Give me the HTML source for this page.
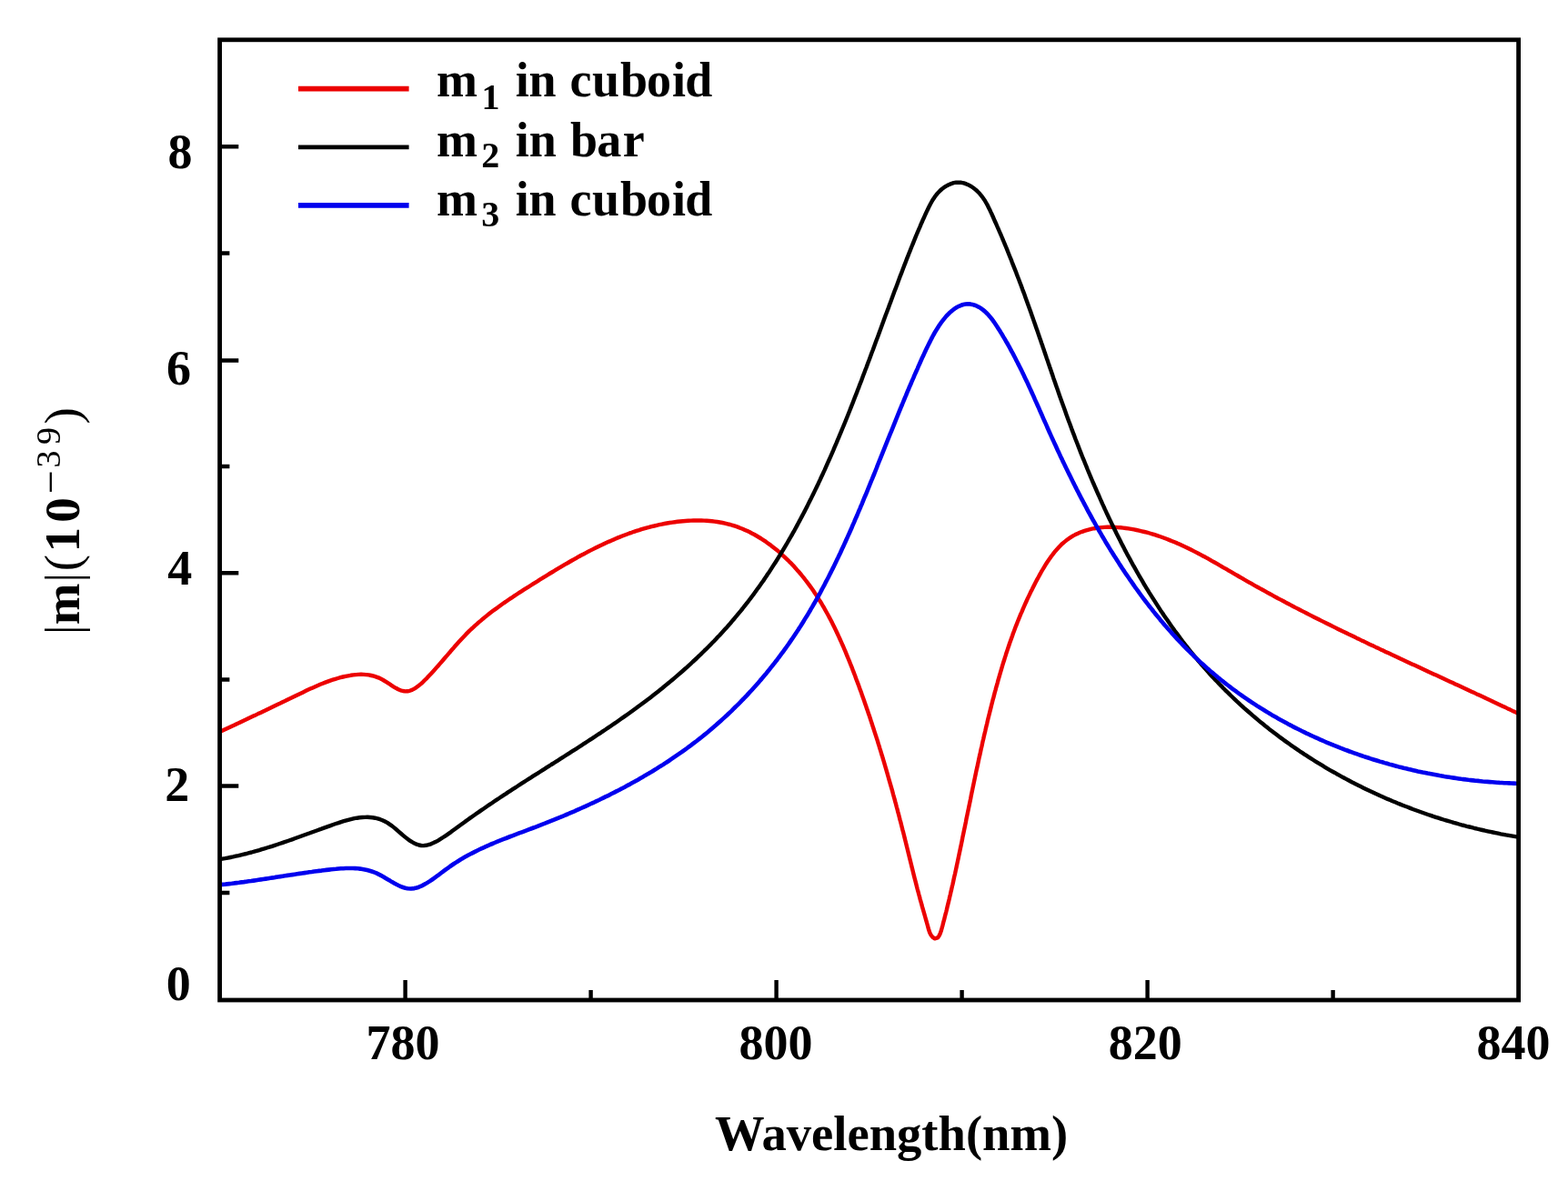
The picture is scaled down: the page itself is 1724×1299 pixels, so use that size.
<!DOCTYPE html>
<html><head><meta charset="utf-8"><title>|m| vs Wavelength</title>
<style>
html,body{margin:0;padding:0;background:#fff;}
body{width:1724px;height:1299px;overflow:hidden;}
svg{display:block;}
text{font-family:"Liberation Serif","Times New Roman",serif;fill:#000;}
</style></head>
<body>
<svg width="1724" height="1299" viewBox="0 0 1724 1299" font-weight="bold">
<defs><clipPath id="clip"><rect x="241.6" y="43.8" width="1428" height="1056.2"/></clipPath></defs>
<rect x="0" y="0" width="1724" height="1299" fill="#fff"/>
<!-- CURVES -->
<g fill="none" stroke-linejoin="round" stroke-linecap="round" clip-path="url(#clip)">
<path stroke="#ec0000" stroke-width="4.4" d="M241.5 805.0L244.2 803.8L246.9 802.5L249.6 801.2L252.3 800.0L255.0 798.7L257.7 797.5L260.3 796.2L263.0 795.0L265.6 793.7L268.2 792.5L270.8 791.3L273.4 790.0L276.0 788.8L278.6 787.6L281.2 786.4L283.8 785.1L286.4 783.9L288.9 782.7L291.5 781.5L294.1 780.2L296.7 779.0L299.2 777.8L301.8 776.5L304.4 775.3L307.0 774.1L309.6 772.8L312.2 771.6L314.8 770.3L317.4 769.0L320.0 767.8L322.6 766.5L325.2 765.2L327.9 763.9L330.5 762.7L333.2 761.4L335.9 760.1L338.5 758.8L341.2 757.6L343.9 756.4L346.6 755.2L349.4 754.0L352.1 752.8L354.8 751.7L357.6 750.6L360.3 749.6L363.1 748.6L365.9 747.7L368.7 746.8L371.5 746.0L374.3 745.2L377.1 744.5L379.9 743.8L382.8 743.3L385.6 742.8L388.4 742.4L391.3 742.1L394.1 741.9L397.0 741.8L399.8 741.9L402.7 742.1L405.5 742.4L408.3 743.0L411.1 743.7L413.9 744.6L416.7 745.6L419.4 746.9L422.1 748.5L424.8 750.1L427.5 751.8L430.1 753.6L432.7 755.3L435.3 756.8L437.9 758.2L440.4 759.3L443.0 760.0L445.5 760.4L448.0 760.3L450.5 759.8L453.0 758.9L455.4 757.6L457.8 756.1L460.2 754.3L462.6 752.4L464.9 750.3L467.1 748.0L469.4 745.8L471.5 743.5L473.7 741.2L475.8 738.9L477.8 736.7L479.8 734.4L481.8 732.2L483.8 729.9L485.7 727.7L487.6 725.5L489.5 723.3L491.4 721.1L493.3 718.9L495.2 716.7L497.0 714.5L498.9 712.4L500.7 710.3L502.6 708.2L504.5 706.1L506.4 704.0L508.3 701.9L510.2 699.9L512.1 697.9L514.1 695.9L516.1 693.9L518.1 692.0L520.2 690.1L522.3 688.1L524.4 686.3L526.5 684.4L528.7 682.6L530.9 680.7L533.1 678.9L535.3 677.1L537.6 675.3L539.8 673.6L542.1 671.8L544.5 670.1L546.8 668.4L549.1 666.7L551.5 665.0L553.9 663.3L556.3 661.7L558.7 660.0L561.1 658.4L563.6 656.8L566.0 655.1L568.5 653.5L570.9 651.9L573.4 650.3L575.9 648.7L578.4 647.1L580.9 645.6L583.4 644.0L585.9 642.4L588.4 640.8L590.9 639.3L593.4 637.7L595.9 636.2L598.4 634.6L600.9 633.1L603.4 631.5L605.9 630.0L608.5 628.5L611.0 626.9L613.5 625.4L616.1 623.9L618.6 622.4L621.1 620.9L623.7 619.5L626.2 618.0L628.8 616.5L631.3 615.1L633.9 613.7L636.4 612.2L639.0 610.8L641.6 609.5L644.2 608.1L646.7 606.7L649.3 605.4L651.9 604.1L654.5 602.8L657.1 601.5L659.7 600.2L662.4 599.0L665.0 597.7L667.6 596.5L670.3 595.4L672.9 594.2L675.6 593.1L678.2 591.9L680.9 590.9L683.6 589.8L686.3 588.7L689.0 587.7L691.7 586.7L694.4 585.8L697.1 584.8L699.8 583.9L702.6 583.1L705.3 582.2L708.1 581.4L710.8 580.6L713.6 579.9L716.4 579.1L719.2 578.5L722.0 577.8L724.8 577.2L727.7 576.6L730.5 576.0L733.3 575.5L736.2 575.0L739.1 574.6L742.0 574.2L744.9 573.8L747.8 573.5L750.7 573.2L753.6 573.0L756.5 572.8L759.5 572.6L762.4 572.5L765.3 572.5L768.3 572.5L771.2 572.5L774.1 572.6L777.1 572.8L780.0 573.0L782.9 573.3L785.8 573.6L788.6 574.0L791.5 574.5L794.4 575.0L797.2 575.6L800.0 576.3L802.8 577.0L805.6 577.8L808.3 578.7L811.1 579.6L813.8 580.7L816.5 581.7L819.1 582.9L821.7 584.1L824.3 585.3L826.9 586.7L829.5 588.0L832.0 589.5L834.5 591.0L837.0 592.5L839.4 594.1L841.9 595.7L844.2 597.4L846.6 599.1L848.9 600.9L851.2 602.7L853.5 604.5L855.8 606.4L858.0 608.3L860.1 610.3L862.3 612.3L864.4 614.3L866.5 616.3L868.5 618.4L870.6 620.4L872.6 622.6L874.5 624.7L876.4 626.9L878.3 629.0L880.2 631.2L882.0 633.5L883.8 635.7L885.6 638.0L887.4 640.3L889.1 642.6L890.8 644.9L892.5 647.3L894.1 649.6L895.7 652.0L897.3 654.4L898.9 656.9L900.4 659.3L902.0 661.8L903.5 664.2L904.9 666.7L906.4 669.2L907.8 671.8L909.2 674.3L910.6 676.8L912.0 679.4L913.4 682.0L914.7 684.6L916.0 687.2L917.3 689.8L918.6 692.4L919.8 695.0L921.1 697.7L922.3 700.3L923.5 703.0L924.7 705.6L925.9 708.3L927.1 711.0L928.2 713.7L929.4 716.4L930.5 719.1L931.6 721.8L932.7 724.5L933.8 727.2L934.9 730.0L936.0 732.7L937.1 735.4L938.1 738.2L939.2 740.9L940.2 743.6L941.2 746.4L942.2 749.1L943.3 751.9L944.3 754.6L945.3 757.4L946.3 760.1L947.3 762.8L948.2 765.6L949.2 768.3L950.2 771.1L951.1 773.8L952.1 776.6L953.0 779.3L954.0 782.1L954.9 784.8L955.9 787.6L956.8 790.3L957.7 793.1L958.6 795.8L959.5 798.6L960.4 801.3L961.3 804.1L962.2 806.9L963.1 809.6L964.0 812.4L964.9 815.1L965.7 817.9L966.6 820.7L967.4 823.4L968.3 826.2L969.1 829.0L970.0 831.7L970.8 834.5L971.7 837.3L972.5 840.1L973.3 842.8L974.1 845.6L974.9 848.4L975.7 851.2L976.5 854.0L977.3 856.8L978.1 859.5L978.9 862.3L979.7 865.1L980.5 867.9L981.3 870.7L982.0 873.5L982.8 876.3L983.6 879.1L984.3 881.9L985.1 884.7L985.8 887.5L986.6 890.3L987.3 893.1L988.1 896.0L988.8 898.8L989.5 901.6L990.3 904.4L991.0 907.2L991.7 910.1L992.4 912.9L993.2 915.7L993.9 918.6L994.6 921.4L995.3 924.2L996.0 927.1L996.7 929.9L997.4 932.7L998.1 935.6L998.8 938.4L999.5 941.3L1000.2 944.1L1000.9 946.9L1001.6 949.8L1002.3 952.6L1003.0 955.4L1003.7 958.3L1004.4 961.1L1005.1 963.9L1005.8 966.7L1006.6 969.6L1007.3 972.4L1008.0 975.2L1008.7 978.0L1009.5 980.8L1010.2 983.5L1011.0 986.3L1011.7 989.1L1012.5 991.9L1013.3 994.6L1014.0 997.4L1014.8 1000.2L1015.6 1002.9L1016.4 1005.7L1017.2 1008.5L1018.0 1011.4L1018.8 1014.2L1019.6 1017.0L1020.4 1019.9L1021.2 1022.8L1022.2 1025.7L1023.5 1028.4L1025.5 1030.8L1027.8 1032.3L1031.0 1031.4L1032.7 1029.0L1033.9 1026.3L1034.9 1023.5L1035.7 1020.5L1036.5 1017.6L1037.2 1014.7L1038.0 1011.9L1038.7 1009.0L1039.4 1006.2L1040.2 1003.3L1040.9 1000.5L1041.5 997.7L1042.2 994.9L1042.9 992.1L1043.6 989.3L1044.2 986.5L1044.9 983.7L1045.5 980.9L1046.2 978.1L1046.8 975.3L1047.5 972.5L1048.1 969.7L1048.7 966.8L1049.3 964.0L1050.0 961.2L1050.6 958.4L1051.2 955.6L1051.8 952.7L1052.4 949.9L1053.0 947.1L1053.6 944.2L1054.2 941.4L1054.8 938.5L1055.4 935.7L1056.0 932.8L1056.6 930.0L1057.2 927.1L1057.8 924.3L1058.3 921.4L1058.9 918.5L1059.5 915.7L1060.1 912.8L1060.7 910.0L1061.3 907.1L1061.9 904.2L1062.4 901.3L1063.0 898.5L1063.6 895.6L1064.2 892.7L1064.8 889.9L1065.4 887.0L1066.0 884.1L1066.6 881.2L1067.2 878.4L1067.7 875.5L1068.3 872.6L1068.9 869.7L1069.5 866.9L1070.1 864.0L1070.7 861.1L1071.3 858.2L1071.9 855.4L1072.5 852.5L1073.1 849.6L1073.7 846.7L1074.4 843.9L1075.0 841.0L1075.6 838.1L1076.2 835.3L1076.8 832.4L1077.5 829.6L1078.1 826.7L1078.7 823.8L1079.4 821.0L1080.0 818.1L1080.6 815.3L1081.3 812.5L1081.9 809.6L1082.6 806.8L1083.3 803.9L1083.9 801.1L1084.6 798.3L1085.3 795.4L1085.9 792.6L1086.6 789.8L1087.3 787.0L1088.0 784.2L1088.7 781.4L1089.4 778.6L1090.1 775.8L1090.8 773.0L1091.5 770.2L1092.3 767.4L1093.0 764.6L1093.7 761.9L1094.5 759.1L1095.2 756.3L1096.0 753.6L1096.8 750.8L1097.5 748.1L1098.3 745.3L1099.1 742.6L1099.9 739.9L1100.7 737.1L1101.5 734.4L1102.3 731.7L1103.1 729.0L1104.0 726.3L1104.8 723.6L1105.7 720.9L1106.5 718.2L1107.4 715.6L1108.3 712.9L1109.2 710.2L1110.1 707.5L1111.1 704.8L1112.0 702.2L1113.0 699.5L1113.9 696.8L1114.9 694.2L1115.9 691.5L1116.9 688.8L1118.0 686.1L1119.0 683.5L1120.1 680.8L1121.2 678.1L1122.3 675.4L1123.5 672.8L1124.6 670.1L1125.8 667.4L1127.0 664.7L1128.2 662.0L1129.4 659.3L1130.7 656.6L1132.0 653.9L1133.3 651.1L1134.7 648.4L1136.0 645.7L1137.4 642.9L1138.8 640.2L1140.3 637.4L1141.8 634.7L1143.3 631.9L1144.8 629.2L1146.4 626.5L1148.0 623.8L1149.6 621.2L1151.3 618.5L1153.0 616.0L1154.8 613.4L1156.6 611.0L1158.4 608.6L1160.3 606.2L1162.3 604.0L1164.3 601.8L1166.3 599.7L1168.4 597.7L1170.6 595.9L1172.8 594.1L1175.1 592.4L1177.4 590.9L1179.8 589.4L1182.2 588.1L1184.7 586.9L1187.2 585.8L1189.8 584.8L1192.4 583.9L1195.1 583.1L1197.8 582.4L1200.5 581.7L1203.3 581.2L1206.0 580.8L1208.9 580.4L1211.7 580.1L1214.5 579.9L1217.4 579.8L1220.3 579.8L1223.2 579.8L1226.1 579.9L1229.1 580.1L1232.0 580.3L1234.9 580.6L1237.9 581.0L1240.8 581.4L1243.8 581.9L1246.7 582.4L1249.6 583.0L1252.5 583.6L1255.4 584.3L1258.3 585.0L1261.1 585.7L1264.0 586.5L1266.8 587.3L1269.6 588.2L1272.4 589.1L1275.1 590.0L1277.9 591.0L1280.6 592.0L1283.3 593.0L1286.0 594.1L1288.7 595.2L1291.4 596.3L1294.1 597.4L1296.7 598.6L1299.3 599.8L1302.0 601.0L1304.6 602.2L1307.2 603.5L1309.8 604.8L1312.4 606.1L1314.9 607.4L1317.5 608.7L1320.1 610.1L1322.6 611.5L1325.2 612.8L1327.7 614.2L1330.2 615.6L1332.7 617.1L1335.3 618.5L1337.8 619.9L1340.3 621.4L1342.8 622.8L1345.3 624.3L1347.8 625.7L1350.3 627.2L1352.9 628.6L1355.4 630.1L1357.9 631.6L1360.4 633.0L1362.9 634.5L1365.4 635.9L1367.9 637.4L1370.4 638.8L1373.0 640.3L1375.5 641.7L1378.0 643.2L1380.5 644.6L1383.1 646.0L1385.6 647.4L1388.2 648.8L1390.7 650.2L1393.2 651.6L1395.8 653.0L1398.4 654.4L1400.9 655.8L1403.5 657.2L1406.0 658.6L1408.6 659.9L1411.2 661.3L1413.7 662.7L1416.3 664.0L1418.9 665.4L1421.4 666.7L1424.0 668.1L1426.6 669.4L1429.2 670.8L1431.8 672.1L1434.4 673.4L1437.0 674.8L1439.6 676.1L1442.1 677.4L1444.7 678.7L1447.3 680.0L1449.9 681.3L1452.5 682.6L1455.1 683.9L1457.8 685.2L1460.4 686.5L1463.0 687.8L1465.6 689.1L1468.2 690.4L1470.8 691.7L1473.4 693.0L1476.0 694.3L1478.7 695.5L1481.3 696.8L1483.9 698.1L1486.5 699.3L1489.2 700.6L1491.8 701.9L1494.4 703.1L1497.0 704.4L1499.7 705.6L1502.3 706.9L1504.9 708.2L1507.6 709.4L1510.2 710.6L1512.8 711.9L1515.5 713.1L1518.1 714.4L1520.7 715.6L1523.4 716.9L1526.0 718.1L1528.7 719.3L1531.3 720.6L1533.9 721.8L1536.6 723.0L1539.2 724.3L1541.9 725.5L1544.5 726.7L1547.1 727.9L1549.8 729.2L1552.4 730.4L1555.1 731.6L1557.7 732.8L1560.4 734.1L1563.0 735.3L1565.6 736.5L1568.3 737.7L1570.9 739.0L1573.6 740.2L1576.2 741.4L1578.9 742.6L1581.5 743.8L1584.1 745.0L1586.8 746.3L1589.4 747.5L1592.1 748.7L1594.7 749.9L1597.3 751.1L1600.0 752.4L1602.6 753.6L1605.3 754.8L1607.9 756.0L1610.5 757.2L1613.2 758.5L1615.8 759.7L1618.4 760.9L1621.1 762.1L1623.7 763.4L1626.3 764.6L1629.0 765.8L1631.6 767.0L1634.2 768.3L1636.9 769.5L1639.5 770.7L1642.1 772.0L1644.7 773.2L1647.3 774.4L1650.0 775.7L1652.6 776.9L1655.2 778.1L1657.8 779.4L1660.4 780.6L1663.0 781.9L1665.7 783.1L1668.3 784.4"/>
<path stroke="#000" stroke-width="4.4" d="M241.3 945.2L244.4 944.7L247.4 944.2L250.4 943.6L253.4 943.0L256.3 942.4L259.3 941.7L262.2 941.1L265.1 940.4L268.0 939.7L270.9 939.0L273.8 938.2L276.6 937.5L279.5 936.7L282.3 935.9L285.1 935.1L287.9 934.2L290.7 933.4L293.5 932.5L296.3 931.7L299.1 930.8L301.9 929.9L304.6 929.0L307.4 928.0L310.2 927.1L312.9 926.2L315.7 925.2L318.5 924.2L321.2 923.3L324.0 922.3L326.8 921.3L329.6 920.3L332.3 919.3L335.1 918.3L337.9 917.3L340.7 916.3L343.5 915.2L346.3 914.2L349.1 913.2L352.0 912.2L354.8 911.1L357.7 910.1L360.5 909.1L363.4 908.1L366.3 907.0L369.2 906.0L372.1 905.1L375.0 904.1L378.0 903.2L380.9 902.4L383.8 901.6L386.7 900.9L389.6 900.2L392.6 899.7L395.4 899.3L398.3 899.0L401.2 898.9L404.0 898.8L406.8 899.0L409.6 899.3L412.4 899.7L415.2 900.3L417.9 901.2L420.5 902.2L423.2 903.5L425.8 904.9L428.3 906.6L430.9 908.4L433.4 910.4L435.9 912.5L438.3 914.6L440.8 916.7L443.2 918.8L445.7 920.9L448.1 922.8L450.6 924.6L453.1 926.2L455.6 927.6L458.1 928.7L460.6 929.5L463.2 930.0L465.8 930.1L468.5 929.8L471.2 929.2L473.9 928.3L476.6 927.1L479.3 925.8L482.0 924.3L484.6 922.7L487.2 921.0L489.8 919.3L492.3 917.6L494.8 915.9L497.2 914.1L499.7 912.3L502.1 910.5L504.5 908.7L506.9 907.0L509.4 905.2L511.8 903.4L514.2 901.7L516.7 899.9L519.1 898.2L521.6 896.5L524.0 894.8L526.5 893.1L528.9 891.4L531.4 889.7L533.9 888.0L536.3 886.3L538.8 884.6L541.3 883.0L543.7 881.3L546.2 879.6L548.7 878.0L551.2 876.3L553.7 874.7L556.2 873.1L558.6 871.4L561.1 869.8L563.6 868.2L566.1 866.6L568.6 865.0L571.1 863.3L573.6 861.7L576.1 860.1L578.6 858.5L581.1 856.9L583.6 855.3L586.1 853.7L588.6 852.1L591.1 850.6L593.6 849.0L596.1 847.4L598.6 845.8L601.1 844.2L603.6 842.6L606.1 841.0L608.6 839.5L611.1 837.9L613.6 836.3L616.1 834.7L618.6 833.1L621.1 831.5L623.6 829.9L626.1 828.3L628.6 826.7L631.1 825.1L633.6 823.6L636.0 822.0L638.5 820.4L641.0 818.7L643.5 817.1L646.0 815.5L648.4 813.9L650.9 812.3L653.4 810.7L655.8 809.0L658.3 807.4L660.8 805.8L663.2 804.1L665.7 802.5L668.1 800.8L670.6 799.2L673.0 797.5L675.4 795.9L677.9 794.2L680.3 792.5L682.7 790.8L685.1 789.1L687.6 787.4L690.0 785.7L692.4 784.0L694.8 782.3L697.2 780.5L699.6 778.8L701.9 777.0L704.3 775.3L706.7 773.5L709.1 771.7L711.4 770.0L713.8 768.2L716.1 766.4L718.5 764.5L720.8 762.7L723.1 760.9L725.5 759.0L727.8 757.2L730.1 755.3L732.4 753.4L734.7 751.5L737.0 749.6L739.3 747.7L741.5 745.8L743.8 743.9L746.1 741.9L748.3 740.0L750.6 738.0L752.8 736.0L755.0 734.1L757.2 732.1L759.4 730.1L761.6 728.0L763.8 726.0L766.0 724.0L768.1 721.9L770.3 719.9L772.4 717.8L774.5 715.7L776.7 713.6L778.8 711.5L780.9 709.4L782.9 707.3L785.0 705.2L787.1 703.0L789.1 700.8L791.2 698.7L793.2 696.5L795.2 694.3L797.2 692.1L799.2 689.9L801.1 687.7L803.1 685.5L805.0 683.2L806.9 681.0L808.8 678.7L810.7 676.4L812.6 674.1L814.5 671.8L816.4 669.5L818.2 667.2L820.0 664.9L821.8 662.6L823.6 660.2L825.4 657.9L827.2 655.5L829.0 653.1L830.7 650.7L832.4 648.3L834.2 645.9L835.9 643.5L837.6 641.1L839.3 638.7L840.9 636.2L842.6 633.8L844.2 631.3L845.9 628.9L847.5 626.4L849.1 623.9L850.7 621.4L852.3 619.0L853.9 616.5L855.5 613.9L857.0 611.4L858.6 608.9L860.1 606.4L861.6 603.8L863.1 601.3L864.7 598.7L866.1 596.2L867.6 593.6L869.1 591.0L870.6 588.5L872.0 585.9L873.5 583.3L874.9 580.7L876.3 578.1L877.7 575.5L879.1 572.9L880.5 570.2L881.9 567.6L883.3 565.0L884.7 562.4L886.0 559.7L887.4 557.1L888.7 554.4L890.0 551.8L891.4 549.1L892.7 546.4L894.0 543.8L895.3 541.1L896.6 538.4L897.9 535.7L899.2 533.1L900.4 530.4L901.7 527.7L902.9 525.0L904.2 522.3L905.4 519.6L906.7 516.9L907.9 514.2L909.1 511.4L910.3 508.7L911.5 506.0L912.7 503.3L913.9 500.6L915.1 497.8L916.3 495.1L917.4 492.4L918.6 489.6L919.8 486.9L920.9 484.2L922.1 481.4L923.2 478.7L924.4 475.9L925.5 473.2L926.6 470.5L927.8 467.7L928.9 465.0L930.0 462.2L931.1 459.5L932.2 456.7L933.3 454.0L934.4 451.2L935.5 448.4L936.6 445.7L937.7 442.9L938.7 440.2L939.8 437.4L940.9 434.7L942.0 431.9L943.0 429.1L944.1 426.4L945.1 423.6L946.2 420.9L947.3 418.1L948.3 415.3L949.3 412.6L950.4 409.8L951.4 407.1L952.5 404.3L953.5 401.5L954.5 398.8L955.6 396.0L956.6 393.3L957.6 390.5L958.6 387.8L959.7 385.0L960.7 382.2L961.7 379.5L962.7 376.7L963.7 374.0L964.8 371.2L965.8 368.5L966.8 365.7L967.8 363.0L968.8 360.3L969.8 357.5L970.8 354.8L971.8 352.0L972.8 349.3L973.8 346.6L974.9 343.8L975.9 341.1L976.9 338.4L977.9 335.6L978.9 332.9L979.9 330.2L980.9 327.5L981.9 324.8L982.9 322.0L983.9 319.3L985.0 316.6L986.0 313.9L987.0 311.2L988.0 308.5L989.0 305.8L990.0 303.1L991.1 300.4L992.1 297.8L993.1 295.1L994.1 292.4L995.2 289.7L996.2 287.0L997.2 284.4L998.3 281.7L999.3 279.0L1000.4 276.3L1001.4 273.7L1002.5 271.0L1003.6 268.3L1004.7 265.6L1005.8 262.9L1006.9 260.2L1008.0 257.5L1009.1 254.8L1010.3 252.1L1011.5 249.4L1012.6 246.7L1013.8 244.0L1015.0 241.2L1016.3 238.5L1017.5 235.7L1018.8 232.9L1020.1 230.2L1021.4 227.4L1022.8 224.7L1024.3 222.0L1025.8 219.4L1027.5 216.9L1029.3 214.5L1031.2 212.2L1033.3 210.0L1035.5 208.0L1037.9 206.2L1040.4 204.6L1043.0 203.2L1045.7 202.1L1048.5 201.2L1051.3 200.7L1054.1 200.6L1056.9 200.8L1059.7 201.4L1062.5 202.4L1065.2 203.6L1067.8 205.0L1070.3 206.7L1072.7 208.6L1074.9 210.7L1077.0 212.8L1078.9 215.1L1080.7 217.5L1082.4 219.9L1083.9 222.5L1085.4 225.1L1086.7 227.7L1088.1 230.4L1089.3 233.1L1090.6 235.8L1091.8 238.5L1093.0 241.3L1094.2 244.0L1095.4 246.7L1096.6 249.5L1097.8 252.2L1099.0 255.0L1100.2 257.7L1101.4 260.5L1102.5 263.2L1103.7 266.0L1104.8 268.7L1106.0 271.5L1107.1 274.2L1108.2 277.0L1109.3 279.8L1110.4 282.5L1111.6 285.3L1112.6 288.1L1113.7 290.8L1114.8 293.6L1115.9 296.4L1117.0 299.1L1118.0 301.9L1119.1 304.7L1120.2 307.5L1121.2 310.2L1122.3 313.0L1123.3 315.8L1124.3 318.6L1125.4 321.4L1126.4 324.1L1127.4 326.9L1128.4 329.7L1129.4 332.5L1130.4 335.3L1131.4 338.0L1132.4 340.8L1133.4 343.6L1134.4 346.4L1135.4 349.2L1136.3 351.9L1137.3 354.7L1138.3 357.5L1139.2 360.3L1140.2 363.1L1141.2 365.8L1142.1 368.6L1143.1 371.4L1144.1 374.2L1145.0 377.0L1146.0 379.7L1146.9 382.5L1147.9 385.3L1148.8 388.1L1149.8 390.9L1150.7 393.7L1151.7 396.4L1152.6 399.2L1153.6 402.0L1154.5 404.8L1155.5 407.6L1156.4 410.3L1157.4 413.1L1158.3 415.9L1159.3 418.7L1160.3 421.5L1161.2 424.3L1162.2 427.0L1163.2 429.8L1164.1 432.6L1165.1 435.4L1166.1 438.2L1167.1 441.0L1168.1 443.7L1169.1 446.5L1170.1 449.3L1171.1 452.1L1172.1 454.9L1173.1 457.7L1174.1 460.5L1175.1 463.2L1176.2 466.0L1177.2 468.8L1178.2 471.6L1179.3 474.4L1180.3 477.2L1181.4 479.9L1182.4 482.7L1183.5 485.5L1184.6 488.3L1185.7 491.1L1186.7 493.8L1187.8 496.6L1188.9 499.4L1190.0 502.2L1191.1 504.9L1192.3 507.7L1193.4 510.5L1194.5 513.2L1195.6 516.0L1196.8 518.8L1197.9 521.5L1199.1 524.3L1200.2 527.0L1201.4 529.8L1202.6 532.5L1203.8 535.3L1205.0 538.0L1206.2 540.8L1207.4 543.5L1208.6 546.2L1209.8 549.0L1211.0 551.7L1212.2 554.4L1213.5 557.1L1214.7 559.9L1216.0 562.6L1217.2 565.3L1218.5 568.0L1219.8 570.7L1221.1 573.4L1222.4 576.1L1223.7 578.8L1225.0 581.5L1226.3 584.1L1227.6 586.8L1229.0 589.5L1230.3 592.1L1231.7 594.8L1233.0 597.5L1234.4 600.1L1235.8 602.8L1237.1 605.4L1238.5 608.0L1239.9 610.7L1241.4 613.3L1242.8 615.9L1244.2 618.5L1245.6 621.1L1247.1 623.7L1248.6 626.3L1250.0 628.9L1251.5 631.5L1253.0 634.1L1254.5 636.6L1256.0 639.2L1257.5 641.8L1259.0 644.3L1260.5 646.8L1262.1 649.4L1263.6 651.9L1265.2 654.4L1266.8 656.9L1268.4 659.4L1270.0 661.9L1271.6 664.4L1273.2 666.9L1274.8 669.4L1276.4 671.9L1278.1 674.3L1279.7 676.8L1281.4 679.2L1283.1 681.6L1284.8 684.1L1286.5 686.5L1288.2 688.9L1289.9 691.3L1291.6 693.7L1293.4 696.1L1295.1 698.4L1296.9 700.8L1298.7 703.2L1300.4 705.5L1302.2 707.8L1304.0 710.2L1305.9 712.5L1307.7 714.8L1309.5 717.1L1311.4 719.4L1313.3 721.7L1315.2 723.9L1317.0 726.2L1318.9 728.4L1320.9 730.7L1322.8 732.9L1324.7 735.1L1326.7 737.3L1328.7 739.5L1330.6 741.7L1332.6 743.9L1334.6 746.0L1336.6 748.2L1338.7 750.3L1340.7 752.5L1342.8 754.6L1344.8 756.7L1346.9 758.8L1349.0 760.8L1351.1 762.9L1353.2 765.0L1355.3 767.0L1357.5 769.1L1359.6 771.1L1361.8 773.1L1363.9 775.1L1366.1 777.1L1368.3 779.1L1370.5 781.0L1372.8 783.0L1375.0 784.9L1377.2 786.9L1379.5 788.8L1381.7 790.7L1384.0 792.6L1386.3 794.5L1388.6 796.3L1390.9 798.2L1393.2 800.0L1395.5 801.9L1397.9 803.7L1400.2 805.5L1402.6 807.3L1404.9 809.1L1407.3 810.9L1409.7 812.6L1412.1 814.4L1414.5 816.1L1416.9 817.8L1419.3 819.6L1421.8 821.3L1424.2 822.9L1426.7 824.6L1429.1 826.3L1431.6 827.9L1434.1 829.6L1436.6 831.2L1439.1 832.8L1441.6 834.4L1444.1 836.0L1446.6 837.6L1449.1 839.1L1451.7 840.7L1454.2 842.2L1456.8 843.8L1459.3 845.3L1461.9 846.8L1464.5 848.3L1467.1 849.7L1469.7 851.2L1472.3 852.6L1474.9 854.1L1477.5 855.5L1480.1 856.9L1482.7 858.3L1485.4 859.7L1488.0 861.1L1490.7 862.4L1493.3 863.8L1496.0 865.1L1498.7 866.4L1501.3 867.7L1504.0 869.0L1506.7 870.3L1509.4 871.5L1512.1 872.8L1514.8 874.0L1517.5 875.3L1520.3 876.5L1523.0 877.7L1525.7 878.9L1528.5 880.0L1531.2 881.2L1533.9 882.3L1536.7 883.5L1539.5 884.6L1542.2 885.7L1545.0 886.8L1547.8 887.8L1550.5 888.9L1553.3 890.0L1556.1 891.0L1558.9 892.0L1561.7 893.0L1564.5 894.0L1567.3 895.0L1570.1 896.0L1572.9 896.9L1575.7 897.9L1578.6 898.8L1581.4 899.7L1584.2 900.6L1587.1 901.5L1589.9 902.3L1592.7 903.2L1595.6 904.0L1598.4 904.9L1601.3 905.7L1604.1 906.5L1607.0 907.3L1609.8 908.0L1612.7 908.8L1615.6 909.5L1618.4 910.2L1621.3 911.0L1624.2 911.7L1627.1 912.3L1629.9 913.0L1632.8 913.7L1635.7 914.3L1638.6 914.9L1641.5 915.5L1644.4 916.1L1647.2 916.7L1650.1 917.3L1653.0 917.8L1655.9 918.4L1658.8 918.9L1661.7 919.4L1664.6 919.9L1667.5 920.4L1669.0 920.6"/>
<path stroke="#0000ee" stroke-width="4.6" d="M241.6 973.2L244.3 972.9L246.9 972.7L249.6 972.4L252.2 972.1L254.9 971.8L257.5 971.4L260.2 971.1L262.8 970.8L265.5 970.4L268.1 970.1L270.8 969.7L273.5 969.3L276.1 969.0L278.8 968.6L281.4 968.2L284.1 967.8L286.8 967.4L289.4 967.0L292.1 966.6L294.7 966.2L297.4 965.8L300.1 965.4L302.7 964.9L305.4 964.5L308.1 964.1L310.7 963.7L313.4 963.3L316.1 962.9L318.7 962.5L321.4 962.1L324.1 961.7L326.7 961.3L329.4 960.9L332.1 960.5L334.8 960.1L337.4 959.7L340.1 959.3L342.8 959.0L345.4 958.6L348.1 958.2L350.8 957.9L353.5 957.6L356.1 957.2L358.8 956.9L361.5 956.6L364.2 956.3L366.8 956.0L369.5 955.8L372.2 955.5L374.8 955.3L377.5 955.2L380.2 955.0L382.8 955.0L385.5 955.0L388.1 955.0L390.7 955.1L393.3 955.3L396.0 955.6L398.5 956.0L401.1 956.4L403.7 957.0L406.3 957.7L408.8 958.5L411.3 959.4L413.9 960.4L416.3 961.6L418.8 962.9L421.3 964.2L423.7 965.7L426.2 967.2L428.6 968.6L431.0 970.1L433.5 971.5L435.9 972.8L438.3 974.0L440.7 975.1L443.2 976.0L445.6 976.7L448.1 977.2L451.8 977.5L455.5 977.1L458.0 976.5L460.5 975.7L463.0 974.7L465.5 973.4L467.9 972.1L470.3 970.6L472.7 969.1L475.1 967.5L477.4 965.9L479.6 964.2L481.9 962.6L484.0 961.0L486.2 959.3L488.4 957.7L490.5 956.1L492.7 954.6L494.8 953.0L497.0 951.5L499.2 950.0L501.4 948.6L503.6 947.2L505.9 945.8L508.1 944.4L510.4 943.1L512.7 941.8L515.0 940.5L517.4 939.3L519.7 938.1L522.1 936.9L524.4 935.7L526.8 934.5L529.2 933.4L531.6 932.3L534.1 931.2L536.5 930.1L538.9 929.0L541.4 928.0L543.8 927.0L546.3 925.9L548.8 924.9L551.3 923.9L553.8 922.9L556.3 922.0L558.8 921.0L561.3 920.0L563.8 919.1L566.3 918.1L568.8 917.2L571.3 916.2L573.8 915.3L576.4 914.3L578.9 913.4L581.4 912.4L583.9 911.5L586.5 910.5L589.0 909.6L591.5 908.6L594.0 907.6L596.5 906.6L599.1 905.7L601.6 904.7L604.1 903.7L606.6 902.7L609.1 901.7L611.6 900.6L614.1 899.6L616.6 898.6L619.1 897.6L621.6 896.5L624.1 895.5L626.5 894.4L629.0 893.3L631.5 892.3L634.0 891.2L636.4 890.1L638.9 889.0L641.4 887.9L643.8 886.8L646.3 885.7L648.7 884.5L651.2 883.4L653.6 882.3L656.0 881.1L658.5 880.0L660.9 878.8L663.3 877.6L665.7 876.4L668.1 875.3L670.6 874.1L673.0 872.8L675.4 871.6L677.7 870.4L680.1 869.2L682.5 867.9L684.9 866.7L687.3 865.4L689.6 864.1L692.0 862.9L694.3 861.6L696.7 860.3L699.0 859.0L701.4 857.7L703.7 856.3L706.0 855.0L708.3 853.6L710.6 852.3L712.9 850.9L715.2 849.6L717.5 848.2L719.8 846.8L722.1 845.4L724.3 843.9L726.6 842.5L728.9 841.1L731.1 839.6L733.3 838.2L735.6 836.7L737.8 835.2L740.0 833.7L742.2 832.2L744.4 830.7L746.6 829.2L748.8 827.7L751.0 826.1L753.1 824.6L755.3 823.0L757.4 821.4L759.6 819.8L761.7 818.2L763.8 816.6L766.0 815.0L768.1 813.3L770.2 811.7L772.3 810.0L774.3 808.4L776.4 806.7L778.5 805.0L780.5 803.3L782.6 801.5L784.6 799.8L786.6 798.1L788.6 796.3L790.6 794.5L792.6 792.7L794.6 790.9L796.6 789.1L798.6 787.3L800.5 785.5L802.5 783.6L804.4 781.8L806.3 779.9L808.2 778.0L810.1 776.2L812.0 774.3L813.9 772.4L815.8 770.4L817.7 768.5L819.5 766.6L821.4 764.6L823.2 762.6L825.0 760.7L826.8 758.7L828.6 756.7L830.4 754.7L832.2 752.7L834.0 750.7L835.7 748.6L837.5 746.6L839.2 744.5L840.9 742.5L842.7 740.4L844.4 738.3L846.1 736.2L847.7 734.1L849.4 732.0L851.1 729.9L852.7 727.8L854.4 725.7L856.0 723.5L857.6 721.4L859.2 719.2L860.8 717.1L862.4 714.9L864.0 712.7L865.5 710.5L867.1 708.3L868.6 706.1L870.1 703.9L871.6 701.7L873.1 699.5L874.6 697.2L876.1 695.0L877.6 692.8L879.0 690.5L880.5 688.3L881.9 686.0L883.3 683.7L884.7 681.4L886.1 679.1L887.5 676.9L888.9 674.6L890.3 672.3L891.6 669.9L893.0 667.6L894.3 665.3L895.7 663.0L897.0 660.6L898.3 658.3L899.6 656.0L900.9 653.6L902.2 651.3L903.4 648.9L904.7 646.5L906.0 644.2L907.2 641.8L908.4 639.4L909.7 637.0L910.9 634.7L912.1 632.3L913.3 629.9L914.5 627.5L915.7 625.1L916.9 622.7L918.1 620.3L919.3 617.8L920.4 615.4L921.6 613.0L922.7 610.6L923.9 608.2L925.0 605.7L926.1 603.3L927.3 600.9L928.4 598.4L929.5 596.0L930.6 593.5L931.7 591.1L932.8 588.6L933.9 586.2L935.0 583.7L936.1 581.3L937.1 578.8L938.2 576.4L939.3 573.9L940.3 571.4L941.4 569.0L942.5 566.5L943.5 564.0L944.5 561.6L945.6 559.1L946.6 556.6L947.7 554.2L948.7 551.7L949.7 549.2L950.7 546.7L951.8 544.3L952.8 541.8L953.8 539.3L954.8 536.8L955.8 534.4L956.8 531.9L957.8 529.4L958.9 526.9L959.9 524.4L960.9 522.0L961.9 519.5L962.9 517.0L963.9 514.5L964.8 512.0L965.8 509.5L966.8 507.0L967.8 504.6L968.8 502.1L969.8 499.6L970.8 497.1L971.8 494.6L972.8 492.1L973.8 489.7L974.8 487.2L975.8 484.7L976.8 482.2L977.8 479.7L978.8 477.2L979.8 474.8L980.8 472.3L981.8 469.8L982.8 467.3L983.8 464.8L984.8 462.3L985.8 459.9L986.8 457.4L987.8 454.9L988.8 452.4L989.8 450.0L990.8 447.5L991.9 445.0L992.9 442.5L993.9 440.1L994.9 437.6L996.0 435.1L997.0 432.6L998.0 430.2L999.1 427.7L1000.1 425.2L1001.2 422.8L1002.2 420.3L1003.3 417.9L1004.4 415.4L1005.4 412.9L1006.5 410.5L1007.6 408.0L1008.7 405.6L1009.7 403.1L1010.8 400.7L1011.9 398.2L1013.0 395.8L1014.1 393.3L1015.3 390.9L1016.4 388.4L1017.5 386.0L1018.6 383.6L1019.8 381.2L1021.0 378.8L1022.2 376.4L1023.4 374.0L1024.6 371.6L1025.8 369.3L1027.1 367.0L1028.4 364.7L1029.8 362.5L1031.2 360.3L1032.6 358.1L1034.0 356.0L1035.5 353.9L1037.1 351.9L1038.7 349.9L1040.3 347.9L1042.0 346.1L1043.8 344.3L1045.7 342.6L1047.7 341.0L1049.8 339.4L1052.0 338.0L1054.3 336.8L1056.7 335.8L1059.1 335.0L1061.6 334.5L1064.1 334.3L1066.6 334.4L1069.2 334.9L1071.7 335.7L1074.1 336.7L1076.5 337.9L1078.8 339.3L1080.9 340.9L1083.0 342.6L1084.9 344.5L1086.8 346.4L1088.5 348.4L1090.2 350.5L1091.8 352.6L1093.3 354.8L1094.8 357.0L1096.3 359.3L1097.7 361.5L1099.2 363.8L1100.6 366.1L1102.0 368.3L1103.3 370.6L1104.7 372.9L1106.0 375.2L1107.4 377.5L1108.7 379.8L1110.0 382.2L1111.2 384.5L1112.5 386.8L1113.8 389.1L1115.0 391.5L1116.2 393.8L1117.4 396.2L1118.6 398.5L1119.8 400.9L1121.0 403.3L1122.2 405.6L1123.4 408.0L1124.5 410.4L1125.7 412.8L1126.8 415.2L1127.9 417.5L1129.1 419.9L1130.2 422.3L1131.3 424.7L1132.4 427.1L1133.5 429.5L1134.6 432.0L1135.7 434.4L1136.8 436.8L1137.8 439.2L1138.9 441.6L1140.0 444.0L1141.1 446.5L1142.2 448.9L1143.2 451.3L1144.3 453.8L1145.4 456.2L1146.4 458.6L1147.5 461.1L1148.6 463.5L1149.7 465.9L1150.8 468.4L1151.8 470.8L1152.9 473.2L1154.0 475.7L1155.1 478.1L1156.2 480.6L1157.3 483.0L1158.4 485.4L1159.6 487.9L1160.7 490.3L1161.8 492.7L1162.9 495.2L1164.1 497.6L1165.2 500.1L1166.3 502.5L1167.5 504.9L1168.6 507.4L1169.8 509.8L1171.0 512.2L1172.1 514.6L1173.3 517.1L1174.5 519.5L1175.7 521.9L1176.9 524.3L1178.1 526.8L1179.3 529.2L1180.5 531.6L1181.7 534.0L1182.9 536.4L1184.1 538.8L1185.4 541.2L1186.6 543.6L1187.9 546.1L1189.1 548.5L1190.4 550.8L1191.6 553.2L1192.9 555.6L1194.2 558.0L1195.4 560.4L1196.7 562.8L1198.0 565.2L1199.3 567.5L1200.6 569.9L1201.9 572.3L1203.3 574.6L1204.6 577.0L1205.9 579.3L1207.3 581.7L1208.6 584.0L1210.0 586.4L1211.3 588.7L1212.7 591.0L1214.1 593.4L1215.4 595.7L1216.8 598.0L1218.2 600.3L1219.6 602.6L1221.0 604.9L1222.5 607.2L1223.9 609.5L1225.3 611.8L1226.8 614.1L1228.2 616.3L1229.7 618.6L1231.1 620.9L1232.6 623.1L1234.1 625.4L1235.6 627.6L1237.1 629.9L1238.6 632.1L1240.1 634.3L1241.6 636.5L1243.1 638.7L1244.7 640.9L1246.2 643.1L1247.7 645.3L1249.3 647.5L1250.9 649.7L1252.5 651.9L1254.0 654.0L1255.6 656.2L1257.2 658.3L1258.9 660.5L1260.5 662.6L1262.1 664.7L1263.7 666.8L1265.4 668.9L1267.1 671.0L1268.7 673.1L1270.4 675.2L1272.1 677.3L1273.8 679.3L1275.5 681.4L1277.2 683.4L1278.9 685.5L1280.6 687.5L1282.4 689.5L1284.1 691.5L1285.9 693.5L1287.7 695.5L1289.4 697.5L1291.2 699.4L1293.0 701.4L1294.8 703.4L1296.7 705.3L1298.5 707.2L1300.3 709.1L1302.2 711.1L1304.0 713.0L1305.9 714.8L1307.8 716.7L1309.7 718.6L1311.6 720.4L1313.5 722.3L1315.4 724.1L1317.3 725.9L1319.3 727.8L1321.2 729.6L1323.2 731.3L1325.2 733.1L1327.2 734.9L1329.2 736.6L1331.2 738.4L1333.2 740.1L1335.2 741.8L1337.3 743.5L1339.3 745.2L1341.4 746.9L1343.4 748.6L1345.5 750.2L1347.6 751.9L1349.7 753.5L1351.9 755.1L1354.0 756.8L1356.1 758.4L1358.3 759.9L1360.4 761.5L1362.6 763.1L1364.8 764.6L1366.9 766.2L1369.1 767.7L1371.3 769.2L1373.6 770.7L1375.8 772.2L1378.0 773.6L1380.3 775.1L1382.5 776.6L1384.8 778.0L1387.0 779.4L1389.3 780.8L1391.6 782.2L1393.9 783.6L1396.2 785.0L1398.5 786.4L1400.8 787.7L1403.2 789.1L1405.5 790.4L1407.8 791.7L1410.2 793.0L1412.5 794.3L1414.9 795.6L1417.3 796.9L1419.7 798.1L1422.0 799.4L1424.4 800.6L1426.8 801.8L1429.3 803.0L1431.7 804.2L1434.1 805.4L1436.5 806.6L1439.0 807.7L1441.4 808.9L1443.9 810.0L1446.3 811.1L1448.8 812.2L1451.2 813.3L1453.7 814.4L1456.2 815.5L1458.7 816.6L1461.2 817.6L1463.7 818.6L1466.2 819.7L1468.7 820.7L1471.2 821.7L1473.7 822.7L1476.2 823.6L1478.7 824.6L1481.3 825.5L1483.8 826.5L1486.4 827.4L1488.9 828.3L1491.4 829.2L1494.0 830.1L1496.6 831.0L1499.1 831.9L1501.7 832.7L1504.3 833.5L1506.8 834.4L1509.4 835.2L1512.0 836.0L1514.6 836.8L1517.2 837.6L1519.8 838.3L1522.4 839.1L1525.0 839.8L1527.6 840.6L1530.2 841.3L1532.8 842.0L1535.4 842.7L1538.0 843.4L1540.6 844.0L1543.2 844.7L1545.8 845.3L1548.5 846.0L1551.1 846.6L1553.7 847.2L1556.3 847.8L1559.0 848.4L1561.6 848.9L1564.2 849.5L1566.9 850.0L1569.5 850.6L1572.1 851.1L1574.8 851.6L1577.4 852.1L1580.1 852.6L1582.7 853.1L1585.3 853.5L1588.0 854.0L1590.6 854.4L1593.3 854.8L1595.9 855.2L1598.6 855.6L1601.2 856.0L1603.8 856.4L1606.5 856.8L1609.1 857.1L1611.8 857.4L1614.4 857.8L1617.1 858.1L1619.7 858.4L1622.3 858.7L1625.0 858.9L1627.6 859.2L1630.3 859.5L1632.9 859.7L1635.5 859.9L1638.2 860.1L1640.8 860.3L1643.4 860.5L1646.1 860.7L1648.7 860.9L1651.3 861.0L1654.0 861.2L1656.6 861.3L1659.2 861.4L1661.8 861.5L1664.4 861.6L1667.1 861.7L1668.4 861.7"/>
</g>
<!-- /CURVES -->
<!-- axes frame -->
<rect x="241.6" y="43.8" width="1428" height="1056.2" fill="none" stroke="#000" stroke-width="4.8"/>
<g stroke="#000" stroke-width="4.4" fill="none">
<!-- x major ticks -->
<path d="M445.6 1100V1078M853.6 1100V1078M1261.6 1100V1078"/>
<!-- x minor ticks -->
<path d="M649.6 1100V1089M1057.6 1100V1089M1465.6 1100V1089"/>
<!-- y major ticks -->
<path d="M241.6 864.5H262.3M241.6 630.3H262.3M241.6 396.5H262.3M241.6 161.2H262.3"/>
<!-- y minor ticks -->
<path d="M241.6 982H252.4M241.6 747.5H252.4M241.6 513H252.4M241.6 278.5H252.4"/>
</g>
<!-- tick labels -->
<g font-size="54" text-anchor="middle">
<text x="443.1" y="1164.7">780</text>
<text x="853.05" y="1164.7">800</text>
<text x="1259.3" y="1164.7">820</text>
<text x="1664" y="1164.7">840</text>
<text x="196.35" y="1100.1">0</text>
<text x="194.65" y="880.5">2</text>
<text x="197.85" y="642.6">4</text>
<text x="196.55" y="422.8">6</text>
<text x="198" y="185.3">8</text>
</g>
<!-- axis titles -->
<text x="980" y="1265.3" font-size="54.6" text-anchor="middle">Wavelength(nm)</text>
<g transform="translate(87.4 694.6) rotate(-90)" font-size="55">
<text x="-3.7" font-weight="normal">|</text>
<text x="7.4">m</text>
<text x="53.9 66.4" font-weight="normal">|(</text>
<text x="87.1 119.85">10</text>
<text x="151.6" y="-16.1" font-size="46" font-weight="normal">−</text>
<text x="180 205.6" y="-21.3" font-size="38" font-weight="normal">39</text>
<text x="228.2" font-weight="normal">)</text>
</g>
<!-- legend -->
<g stroke-width="4.8" fill="none">
<path d="M328 97.6H449.6" stroke="#ec0000" stroke-width="5.6"/>
<path d="M328 161.8H449.6" stroke="#000"/>
<path d="M328 225.9H449.6" stroke="#0000ee" stroke-width="5.6"/>
</g>
<g font-size="54">
<text y="106" x="480.05">m</text><text y="119.6" font-size="40" x="529.4">1</text>
<text y="106" x="566.8 581.6">in</text><text y="106" x="626.5 650.98 681.95 711.05 738.95 753.3">cuboid</text>
<text y="171.5" x="480.05">m</text><text y="184.2" font-size="40" x="529.3">2</text>
<text y="171.5" x="566.8 581.8">in</text><text y="171.5" x="626.9 656.2 684.7">bar</text>
<text y="237.3" x="480.05">m</text><text y="249" font-size="40" x="529.2">3</text>
<text y="237.3" x="566.8 581.6">in</text><text y="237.3" x="626.5 650.98 681.95 711.05 738.95 753.3">cuboid</text>
</g>
</svg>
</body></html>
